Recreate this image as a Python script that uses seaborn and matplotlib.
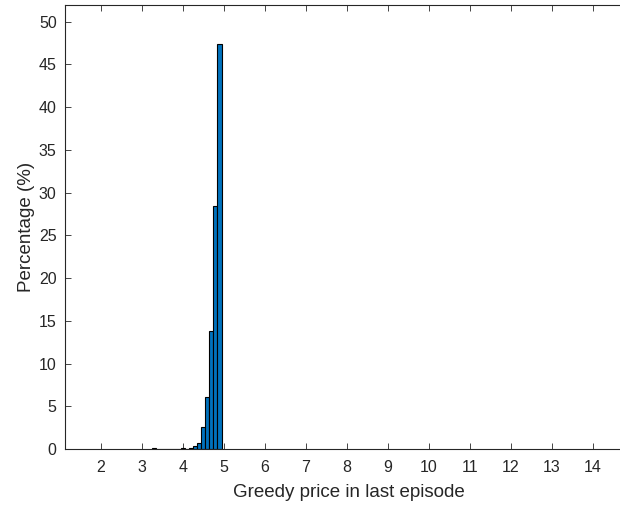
import pandas as pd
import matplotlib
matplotlib.use("Agg")
import matplotlib.pyplot as plt
import seaborn as sns

# Histogram of greedy prices (bin centres, width 0.1) and share of runs in each bin
price_bins = [3.3, 4.0, 4.2, 4.3, 4.4, 4.5, 4.6, 4.7, 4.8, 4.9]
percentage = [0.1, 0.1, 0.15, 0.35, 0.7, 2.6, 6.1, 13.85, 28.4, 47.4]
x_ticks = list(range(2, 15))
y_ticks = list(range(0, 51, 5))

df = pd.DataFrame({"price": price_bins, "pct": percentage})

sns.set_theme(style="white")
plt.rcParams["font.family"] = ["Liberation Sans", "DejaVu Sans"]
ink = "#262626"

fig = plt.figure(figsize=(6.2, 5.08), dpi=100)
ax = fig.add_axes([65 / 620, 1 - 449 / 508, 0.917, (449 - 4.6) / 508])

edges = [round(3.25 + 0.1 * k, 2) for k in range(18)]
sns.histplot(data=df, x="price", weights="pct", bins=edges, ax=ax,
             color="#0072BD", alpha=1.0, edgecolor="black", linewidth=0.8)

ax.set_xlim(1.13, 15.0)
ax.set_ylim(0, 52)
ax.set_xticks(x_ticks)
ax.set_yticks(y_ticks)
ax.tick_params(axis="both", direction="in", length=4, width=0.6, color=ink,
               labelsize=11.5, labelcolor=ink, top=True, bottom=True, left=True)
ax.tick_params(axis="x", pad=8)
ax.tick_params(axis="y", pad=6)
for s in ax.spines.values():
    s.set_color(ink)
    s.set_linewidth(0.8)

ax.set_xlabel("Greedy price in last episode", fontsize=13.5, color=ink, labelpad=6.5)
ax.set_ylabel("Percentage (%)", fontsize=13.5, color=ink, labelpad=3)

fig.savefig("out.png", dpi=100)
